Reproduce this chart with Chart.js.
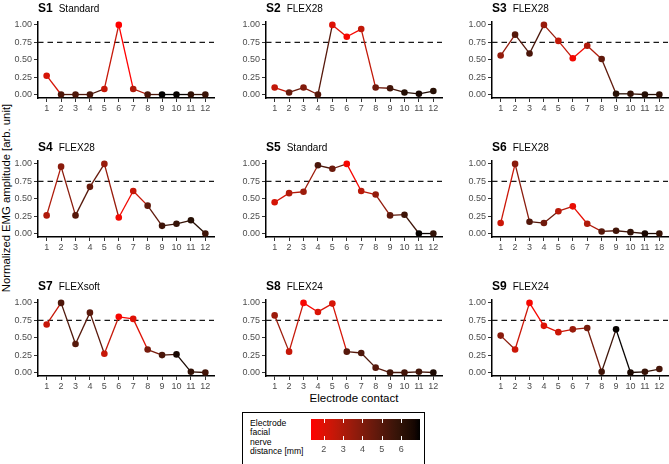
<!DOCTYPE html>
<html>
<head>
<meta charset="utf-8">
<script src="https://cdn.jsdelivr.net/npm/chart.js@4.4.0/dist/chart.umd.min.js"></script>
<style>
  body { margin: 0; width: 669px; height: 464px; position: relative; overflow: hidden; background: #fff;
         font-family: "Liberation Sans", Arial, sans-serif; }
  canvas { position: absolute; }
  .title { position: absolute; white-space: nowrap; line-height: 14px; color: #000; }
  .title b { font-size: 12px; margin-right: 6px; }
  .title span { font-size: 10px; }
  .ytitle { position: absolute; left: 5.5px; top: 198px; transform: translate(-50%, -50%) rotate(-90deg);
            font-size: 11.3px; white-space: nowrap; color: #000; }
  .xtitle { position: absolute; left: 354px; top: 398px; transform: translate(-50%, -50%);
            font-size: 11.5px; white-space: nowrap; color: #000; }
  .legend { position: absolute; left: 242px; top: 412px; width: 183px; height: 70px; border: 1.5px solid #000; box-sizing: border-box; }
  .legend .lab { position: absolute; left: 7px; top: 6px; font-size: 8.6px; line-height: 9.4px; color: #000; }
</style>
</head>
<body>
<div class="ytitle">Normalized EMG amplitude [arb. unit]</div>
<div class="xtitle">Electrode contact</div>
<div class="legend"><div class="lab">Electrode<br>facial<br>nerve<br>distance [mm]</div></div>
<script>
// electrode contacts on the x axis
const contacts = [1, 2, 3, 4, 5, 6, 7, 8, 9, 10, 11, 12];
const subjects = ['S1', 'S2', 'S3', 'S4', 'S5', 'S6', 'S7', 'S8', 'S9'];
const electrodes = ['Standard', 'FLEX28', 'FLEX28', 'FLEX28', 'Standard', 'FLEX28', 'FLEXsoft', 'FLEX24', 'FLEX24'];

// normalized EMG amplitude per contact
const ampS1 = [0.27, 0.00, 0.00, 0.00, 0.08, 1.00, 0.08, 0.00, 0.00, 0.00, 0.00, 0.00];
const ampS2 = [0.10, 0.03, 0.10, 0.00, 1.00, 0.83, 0.94, 0.10, 0.09, 0.03, 0.01, 0.05];
const ampS3 = [0.56, 0.86, 0.59, 1.00, 0.77, 0.52, 0.70, 0.51, 0.01, 0.01, 0.00, 0.00];
const ampS4 = [0.26, 0.96, 0.26, 0.67, 1.00, 0.23, 0.61, 0.40, 0.11, 0.14, 0.19, 0.00];
const ampS5 = [0.45, 0.58, 0.60, 0.98, 0.93, 1.00, 0.61, 0.56, 0.26, 0.27, 0.00, 0.00];
const ampS6 = [0.15, 1.00, 0.17, 0.15, 0.32, 0.39, 0.14, 0.03, 0.04, 0.02, 0.00, 0.00];
const ampS7 = [0.69, 1.00, 0.41, 0.86, 0.27, 0.80, 0.77, 0.33, 0.25, 0.26, 0.01, 0.00];
const ampS8 = [0.82, 0.30, 1.00, 0.87, 0.99, 0.30, 0.28, 0.07, 0.00, 0.00, 0.01, 0.00];
const ampS9 = [0.53, 0.33, 1.00, 0.67, 0.58, 0.62, 0.64, 0.01, 0.62, 0.00, 0.01, 0.05];

const distS1 = [2.2, 5.2, 5.2, 5.3, 2.5, 1.34, 3.0, 5.3, 6.97, 6.9, 5.9, 5.7];
const distS2 = [2.6, 4.6, 4.0, 5.0, 2.0, 1.5, 2.6, 4.4, 5.5, 6.3, 6.6, 6.2];
const distS3 = [3.6, 5.0, 5.3, 3.5, 2.6, 1.6, 3.0, 4.8, 6.2, 5.8, 6.3, 6.0];
const distS4 = [3.0, 3.8, 5.0, 4.6, 3.5, 1.6, 2.5, 4.8, 5.6, 5.8, 6.2, 5.6];
const distS5 = [2.2, 2.9, 3.4, 5.3, 4.5, 1.5, 2.8, 3.6, 4.8, 5.6, 6.9, 5.9];
const distS6 = [2.4, 3.8, 5.1, 4.4, 2.8, 1.8, 3.0, 5.0, 5.5, 5.9, 6.6, 5.8];
const distS7 = [2.5, 5.2, 5.0, 4.9, 2.5, 1.5, 2.0, 4.2, 5.3, 6.6, 5.9, 5.5];
const distS8 = [3.4, 2.5, 1.5, 2.1, 2.2, 5.0, 5.2, 5.0, 5.5, 5.5, 5.5, 6.5];
const distS9 = [3.8, 2.4, 1.5, 2.0, 2.4, 3.5, 4.3, 5.6, 6.9, 6.5, 5.8, 5.4];

const yTicks = [0, 0.25, 0.5, 0.75, 1];
const legendTicks = [2, 3, 4, 5, 6];
const threshold = 0.75;

const amps = [ampS1, ampS2, ampS3, ampS4, ampS5, ampS6, ampS7, ampS8, ampS9];
const dists = [distS1, distS2, distS3, distS4, distS5, distS6, distS7, distS8, distS9];

Chart.defaults.font.family = '"Liberation Sans", Arial, sans-serif';
Chart.defaults.animation = false;

const allDist = dists.flat();
const dMin = Math.min(...allDist), dMax = Math.max(...allDist);

// red -> black gradient interpolated in Lab like ggplot
function labToRgb(L, a, b) {
  const fy = (L + 16) / 116, fx = fy + a / 500, fz = fy - b / 200;
  const finv = t => t > 6 / 29 ? t * t * t : 3 * (6 / 29) * (6 / 29) * (t - 4 / 29);
  const X = 0.95047 * finv(fx), Y = finv(fy), Z = 1.08883 * finv(fz);
  const r = 3.2406 * X - 1.5372 * Y - 0.4986 * Z;
  const g = -0.9689 * X + 1.8758 * Y + 0.0415 * Z;
  const bl = 0.0557 * X - 0.2040 * Y + 1.0570 * Z;
  const gam = c => {
    c = Math.max(0, Math.min(1, c));
    return Math.round(255 * (c <= 0.0031308 ? 12.92 * c : 1.055 * Math.pow(c, 1 / 2.4) - 0.055));
  };
  return `rgb(${gam(r)},${gam(g)},${gam(bl)})`;
}
function distColor(d) {
  const t = (d - dMin) / (dMax - dMin);
  return labToRgb(53.24 * (1 - t), 80.09 * (1 - t), 67.20 * (1 - t));
}

// dashed reference line
const hline = {
  id: 'hline',
  beforeDatasetsDraw(chart) {
    const { ctx, chartArea, scales } = chart;
    const y = scales.y.getPixelForValue(threshold);
    ctx.save();
    ctx.strokeStyle = '#1a1a1a';
    ctx.lineWidth = 1.3;
    ctx.setLineDash([5.5, 4]);
    ctx.beginPath();
    ctx.moveTo(chartArea.left, y);
    ctx.lineTo(chartArea.right, y);
    ctx.stroke();
    ctx.restore();
  }
};

const colX = [38, 266, 492];
const rowTop = [19.5, 158.5, 297.5];
const AREA_W = 176, AREA_H = 78, Y_W = 38, X_H = 18, PAD_T = 6, PAD_R = 4;

subjects.forEach((s, i) => {
  const col = i % 3, row = Math.floor(i / 3);
  const cv = document.createElement('canvas');
  cv.width = Y_W + AREA_W + PAD_R;
  cv.height = PAD_T + AREA_H + X_H;
  cv.style.left = (colX[col] - Y_W) + 'px';
  cv.style.top = (rowTop[row] - PAD_T) + 'px';
  document.body.appendChild(cv);

  const t = document.createElement('div');
  t.className = 'title';
  t.style.left = colX[col] + 'px';
  t.style.top = (rowTop[row] - 20) + 'px';
  t.innerHTML = `<b>${s}</b><span>${electrodes[i]}</span>`;
  document.body.appendChild(t);

  const colors = dists[i].map(distColor);
  new Chart(cv, {
    type: 'line',
    data: {
      datasets: [{
        data: amps[i].map((v, j) => ({ x: contacts[j], y: v })),
        borderWidth: 1.3,
        pointRadius: 3.3,
        pointBackgroundColor: colors,
        pointBorderColor: colors,
        pointBorderWidth: 0,
        segment: { borderColor: ctx => colors[ctx.p0DataIndex] },
        clip: false
      }]
    },
    options: {
      responsive: false,
      layout: { padding: { top: PAD_T, right: PAD_R, left: 0, bottom: 0 } },
      plugins: { legend: { display: false }, tooltip: { enabled: false } },
      scales: {
        x: {
          type: 'linear', min: 0.4, max: 12.6,
          afterBuildTicks: sc => { sc.ticks = contacts.map(v => ({ value: v })); },
          afterFit: sc => { sc.height = X_H; },
          grid: { drawOnChartArea: false, drawTicks: true, tickLength: 4, color: '#333' },
          border: { color: '#000', width: 1.5 },
          ticks: { color: '#4d4d4d', font: { size: 9 }, padding: 1, maxRotation: 0, autoSkip: false }
        },
        y: {
          min: -0.05, max: 1.05,
          afterBuildTicks: sc => { sc.ticks = yTicks.map(v => ({ value: v })); },
          afterFit: sc => { sc.width = Y_W; },
          grid: { drawOnChartArea: false, drawTicks: true, tickLength: 4, color: '#333' },
          border: { color: '#000', width: 1.5 },
          ticks: { color: '#4d4d4d', font: { size: 9 }, padding: 2, callback: v => v.toFixed(2) }
        }
      }
    },
    plugins: [hline]
  });
});

// colour bar legend
const barPlugin = {
  id: 'bar',
  beforeDraw(chart) {
    const { ctx, chartArea, scales } = chart;
    const { left, right, top, bottom } = chartArea;
    const grad = ctx.createLinearGradient(left, 0, right, 0);
    for (let k = 0; k <= 20; k++) {
      const d = dMin + (dMax - dMin) * k / 20;
      grad.addColorStop(k / 20, distColor(d));
    }
    ctx.save();
    ctx.fillStyle = grad;
    ctx.fillRect(left, top, right - left, bottom - top);
    ctx.strokeStyle = '#fff';
    ctx.lineWidth = 1;
    legendTicks.forEach(v => {
      const x = Math.round(scales.x.getPixelForValue(v)) + 0.5;
      ctx.beginPath();
      ctx.moveTo(x, top); ctx.lineTo(x, top + 4);
      ctx.moveTo(x, bottom - 4); ctx.lineTo(x, bottom);
      ctx.stroke();
    });
    ctx.restore();
  }
};
const lc = document.createElement('canvas');
lc.width = 109; lc.height = 36;
lc.style.left = '311px'; lc.style.top = '419px';
document.body.appendChild(lc);
new Chart(lc, {
  type: 'line',
  data: { datasets: [] },
  options: {
    responsive: false,
    layout: { padding: 0 },
    plugins: { legend: { display: false }, tooltip: { enabled: false } },
    scales: {
      x: {
        type: 'linear', min: dMin, max: dMax,
        afterBuildTicks: sc => { sc.ticks = legendTicks.map(v => ({ value: v })); },
        afterFit: sc => { sc.height = 15; },
        grid: { display: false, drawTicks: false },
        border: { display: false },
        ticks: { color: '#4d4d4d', font: { size: 9 }, padding: 4 }
      },
      y: { display: false }
    }
  },
  plugins: [barPlugin]
});
</script>
</body>
</html>
